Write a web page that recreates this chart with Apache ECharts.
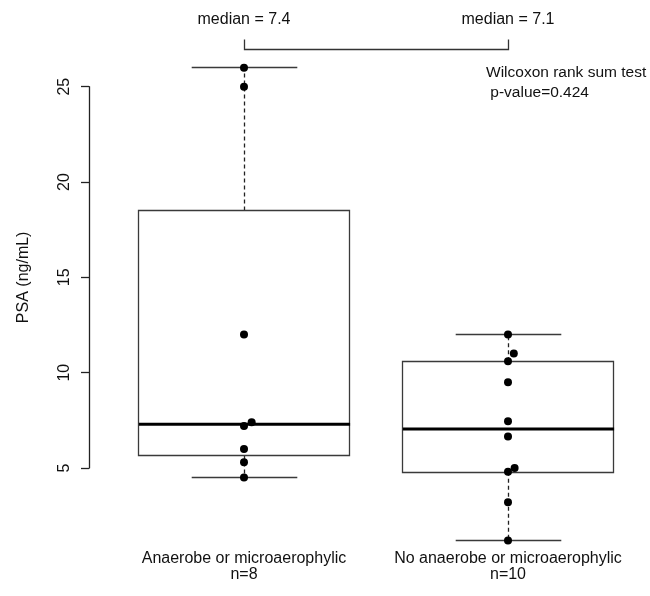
<!DOCTYPE html>
<html>
<head>
<meta charset="utf-8">
<script src="https://cdn.jsdelivr.net/npm/echarts@6/dist/echarts.min.js"></script>
<style>html,body{margin:0;padding:0;background:#fff}#c{width:650px;height:596px}</style>
</head>
<body>
<div id="c"></div>
<script>
// ---- data ----
const categories = ['Anaerobe or microaerophylic\nn=8', 'No anaerobe or microaerophylic\nn=10'];
const medianLabels = ['median = 7.4', 'median = 7.1'];
// box statistics [min, Q1, median, Q3, max]
const boxAnaerobe = [4.5, 5.65, 7.3, 18.5, 26];
const boxNoAnaerobe = [1.2, 4.8, 7.05, 10.6, 12.0];
// individual observations
const pointsAnaerobe = [26, 25, 12, 7.4, 7.2, 6.0, 5.3, 4.5];
const pointsNoAnaerobe = [12.0, 11.0, 10.6, 9.5, 7.45, 6.65, 5.0, 4.8, 3.2, 1.2];
// small horizontal offsets of overlapping points (in category units)
const jitterAnaerobe = [0, 0, 0, 0.029, 0, 0, 0, 0];
const jitterNoAnaerobe = [0, 0.022, 0, 0, 0, 0, 0.025, 0, 0, 0];
const yTicks = { min: 5, max: 25, interval: 5 };
const testText = ['Wilcoxon rank sum test', ' p-value=0.424'];

const FONT = '"Liberation Sans", Arial, sans-serif';
const chart = echarts.init(document.getElementById('c'), null, { renderer: 'canvas' });

const boxes = [[0].concat(boxAnaerobe), [1].concat(boxNoAnaerobe)];
const pts = [];
pointsAnaerobe.forEach((v, i) => pts.push([0 + jitterAnaerobe[i], v]));
pointsNoAnaerobe.forEach((v, i) => pts.push([1 + jitterNoAnaerobe[i], v]));

function r5(v) { return Math.round(v - 0.5) + 0.5; }

function renderBox(params, api) {
  const c = api.value(0);
  const pMin = api.coord([c, api.value(1)]);
  const pQ1 = api.coord([c, api.value(2)]);
  const pMed = api.coord([c, api.value(3)]);
  const pQ3 = api.coord([c, api.value(4)]);
  const pMax = api.coord([c, api.value(5)]);
  const cx = r5(pMin[0]);
  const hw = api.size([1, 0])[0] * 0.4;
  const capHw = hw / 2;
  const stroke = '#3a3a3a';
  return {
    type: 'group',
    children: [
      { type: 'line', shape: { x1: cx, y1: pQ3[1], x2: cx, y2: pMax[1] },
        style: { stroke: '#222', lineWidth: 1.3, lineDash: [4, 3] } },
      { type: 'line', shape: { x1: cx, y1: pQ1[1], x2: cx, y2: pMin[1] },
        style: { stroke: '#222', lineWidth: 1.3, lineDash: [4, 3] } },
      { type: 'line', shape: { x1: cx - capHw, y1: r5(pMax[1]), x2: cx + capHw, y2: r5(pMax[1]) },
        style: { stroke: stroke, lineWidth: 1.3 } },
      { type: 'line', shape: { x1: cx - capHw, y1: r5(pMin[1]), x2: cx + capHw, y2: r5(pMin[1]) },
        style: { stroke: stroke, lineWidth: 1.3 } },
      { type: 'rect', shape: { x: r5(cx - hw), y: r5(pQ3[1]), width: Math.round(2 * hw), height: Math.round(pQ1[1] - pQ3[1]) },
        style: { stroke: stroke, lineWidth: 1.3, fill: 'none' } },
      { type: 'line', shape: { x1: cx - hw, y1: pMed[1], x2: cx + hw, y2: pMed[1] },
        style: { stroke: '#000', lineWidth: 3 } }
    ]
  };
}

const option = {
  backgroundColor: '#fff',
  animation: false,
  textStyle: { fontFamily: FONT },
  grid: [
    { left: 112, width: 528, top: 10.44, height: 533.8 },
    { left: 89, width: 1, top: 86.7, height: 381.3 }
  ],
  xAxis: [
    { type: 'category', gridIndex: 0, data: categories,
      axisLine: { show: false }, axisTick: { show: false }, splitLine: { show: false },
      axisLabel: { color: '#111', fontSize: 16, fontFamily: FONT, lineHeight: 16, margin: 6, interval: 0 } },
    { type: 'value', gridIndex: 0, min: -0.5, max: 1.5, show: false },
    { type: 'value', gridIndex: 1, min: 0, max: 1, show: false }
  ],
  yAxis: [
    { type: 'value', gridIndex: 0, min: 1, max: 29, show: false },
    { type: 'value', gridIndex: 1, min: yTicks.min, max: yTicks.max, interval: yTicks.interval,
      name: 'PSA (ng/mL)', nameLocation: 'middle', nameGap: 57, nameRotate: 90,
      nameTextStyle: { color: '#111', fontSize: 16, fontFamily: FONT },
      axisLine: { show: true, lineStyle: { color: '#222', width: 1.3 } },
      axisTick: { show: true, length: 8, lineStyle: { color: '#222', width: 1.3 } },
      splitLine: { show: false },
      axisLabel: { color: '#111', fontSize: 16, fontFamily: FONT, rotate: 90, margin: 16 } }
  ],
  series: [
    { type: 'custom', xAxisIndex: 0, yAxisIndex: 0, renderItem: renderBox, data: boxes,
      encode: { x: 0, y: [1, 2, 3, 4, 5] }, clip: false, silent: true },
    { type: 'scatter', xAxisIndex: 1, yAxisIndex: 0, data: pts, symbol: 'circle', symbolSize: 8,
      itemStyle: { color: '#000', opacity: 1 }, clip: false, silent: true }
  ]
};
chart.setOption(option);

// annotations positioned from the chart's own scales
const x0 = chart.convertToPixel({ xAxisIndex: 0, yAxisIndex: 0 }, [0, 10])[0];
const x1 = chart.convertToPixel({ xAxisIndex: 0, yAxisIndex: 0 }, [1, 10])[0];
const bx0 = Math.round(x0) + 0.5, bx1 = Math.round(x1) + 0.5;
chart.setOption({
  graphic: [
    { type: 'text', x: x0, y: 20, style: { text: medianLabels[0], font: '16px ' + FONT, fill: '#111', align: 'center', verticalAlign: 'middle' } },
    { type: 'text', x: x1, y: 20, style: { text: medianLabels[1], font: '16px ' + FONT, fill: '#111', align: 'center', verticalAlign: 'middle' } },
    { type: 'polyline', shape: { points: [[bx0, 39.5], [bx0, 49.5], [bx1, 49.5], [bx1, 39.5]] },
      style: { stroke: '#333', lineWidth: 1.3, fill: null } },
    { type: 'text', x: 486, y: 73, style: { text: testText[0], font: '15.5px ' + FONT, fill: '#111', align: 'left', verticalAlign: 'middle' } },
    { type: 'text', x: 486, y: 93, style: { text: testText[1], font: '15.5px ' + FONT, fill: '#111', align: 'left', verticalAlign: 'middle' } }
  ]
});
</script>
</body>
</html>
